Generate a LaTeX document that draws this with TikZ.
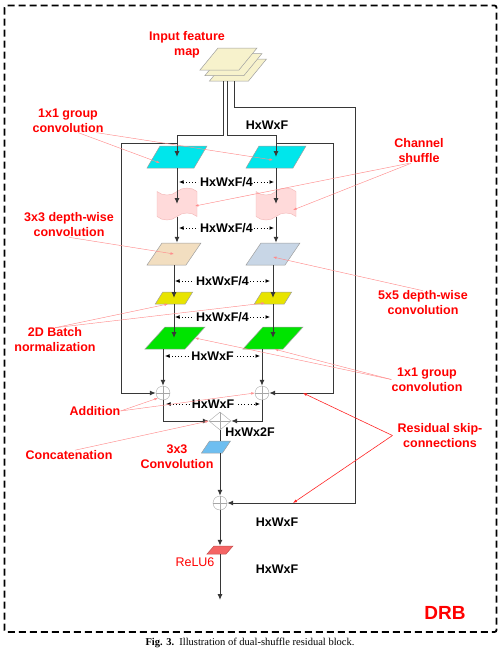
\documentclass[tikz,border=0pt]{standalone}
\usepackage{fontspec}
\setmainfont{Liberation Serif}
\setsansfont{Liberation Sans}
\usepackage{tikz}
\usetikzlibrary{shapes.geometric,shapes.symbols,arrows.meta}
\usepackage{xcolor}

\definecolor{mapF}{RGB}{247,242,204}
\definecolor{grpF}{RGB}{0,230,235}
\definecolor{tanF}{RGB}{242,222,192}
\definecolor{dwF}{RGB}{200,214,230}
\definecolor{bnF}{RGB}{232,228,0}
\definecolor{pwF}{RGB}{0,228,0}
\definecolor{convF}{RGB}{110,190,240}
\definecolor{reluF}{RGB}{245,100,100}
\definecolor{shufF}{RGB}{255,218,218}
\definecolor{shufD}{RGB}{242,180,180}
\definecolor{leadC}{RGB}{255,140,140}
\definecolor{lineC}{RGB}{55,55,55}

\newcommand{\lblfont}{\sffamily\bfseries\fontsize{12.5}{15}\selectfont}

\begin{document}
\begin{tikzpicture}[x=1pt, y=-1pt,
    >={Latex[length=6pt,width=5pt]},
    para/.style={rectangle, transform shape, inner sep=0pt, draw=gray!75, line width=0.5pt},
    inmap/.style={para, xslant=0.82, minimum width=39, minimum height=22, fill=mapF},
    grpconv/.style={para, xslant=0.59, minimum width=47, minimum height=22, fill=grpF},
    dwconv/.style={para, xslant=0.68, minimum width=39, minimum height=22},
    bnorm/.style={para, xslant=0.62, minimum width=30, minimum height=12, fill=bnF},
    pwconv/.style={para, xslant=0.91, minimum width=40, minimum height=22, fill=pwF},
    shuf/.style={tape, draw=shufD, fill=shufF, minimum width=40, minimum height=32,
                 tape bend height=7pt, inner sep=0pt},
    adder/.style={circle, draw=gray!70, minimum size=14, inner sep=0pt,
        path picture={\draw[gray!70] (path picture bounding box.north) -- (path picture bounding box.south)
                      (path picture bounding box.west) -- (path picture bounding box.east);}},
    concat/.style={diamond, draw=gray!70, minimum width=22, minimum height=18, inner sep=0pt,
        path picture={\draw[gray!70] (path picture bounding box.north) -- (path picture bounding box.south)
                      (path picture bounding box.west) -- (path picture bounding box.east);}},
    flow/.style={draw=lineC, line width=1pt},
    arr/.style={flow, ->},
    dim/.style={draw=black, line width=0.9pt, dash pattern=on 0.9pt off 2.2pt,
                {Latex[length=4.5pt,width=4pt]}-{Latex[length=4.5pt,width=4pt]}},
    dimlbl/.style={fill=white, inner sep=1.5pt, font=\lblfont},
    lbl/.style={text=red, font=\lblfont, align=center, inner sep=0pt},
    lead/.style={draw=leadC, line width=0.45pt, -{Latex[length=3.5pt,width=2.5pt]}},
    reslead/.style={draw=red!85, line width=0.6pt, -{Latex[length=4pt,width=3pt]}}
]
\useasboundingbox (0,0) rectangle (500,659);

% outer DRB frame
\draw[line width=1.8pt, dash pattern=on 7pt off 4pt, rounded corners=2pt] (4.5,5.5) rectangle (496.5,632);
\node[text=red, font=\sffamily\bfseries\fontsize{19}{20}\selectfont] (drb) at (445,613) {DRB};

% input feature map (three stacked layers)
\node[inmap] (in3) at (238,70) {};
\node[inmap] (in2) at (233.5,64.5) {};
\node[inmap] (in1) at (228.5,59) {};

% two branches
\node[grpconv] (cyanL) at (177,157) {};
\node[grpconv] (cyanR) at (276,157) {};
\node[shuf] (shufL) at (177,204) {};
\node[shuf] (shufR) at (276,204) {};
\node[dwconv, fill=tanF] (tanL) at (174,254) {};
\node[dwconv, fill=dwF] (tanR) at (273,254) {};
\node[bnorm] (yelL) at (174,298) {};
\node[bnorm] (yelR) at (273,298) {};
\node[pwconv] (greenL) at (175,338) {};
\node[pwconv] (greenR) at (273,338) {};
\node[adder] (addL) at (163,393) {};
\node[adder] (addR) at (262,393) {};

% merge and output
\node[concat] (cat) at (220,421) {};
\node[para, xslant=0.67, minimum width=21, minimum height=12, fill=convF] (conv) at (216,447) {};
\node[adder] (addO) at (220,503) {};
\node[para, draw=reluF!80!black, xslant=0.87, minimum width=19, minimum height=8, fill=reluF] (relu) at (220,550) {};
\coordinate (out) at (220,600);

% input lines
\draw[arr] ([xshift=-5pt]in3.south) -- ++(0,54) -| (cyanL.center);
\draw[arr] ([xshift=-1pt]in3.south) -- ++(0,54) -| (cyanR.center);
\draw[arr] ([xshift=6pt]in3.south) -- ++(0,26) -- ++(121,0) |- (addO.east);

% residual skips of the branches
\coordinate (skL) at (177,143);
\coordinate (skR) at (276,143);
\draw[arr] (skL) -- ++(-56,0) |- (addL.west);
\draw[arr] (skR) -- ++(57,0) |- (addR.east);

% branch flow
\draw[arr] (cyanL.center |- cyanL.south) -- (shufL.center);
\draw[arr] (cyanR.center |- cyanR.south) -- (shufR.center);
\draw[arr] (shufL.south) -- (shufL.south |- tanL.north);
\draw[arr] (shufR.south) -- (shufR.south |- tanR.north);
\draw[arr] (tanL.center |- tanL.south) -- (yelL.center);
\draw[arr] (tanR.center |- tanR.south) -- (yelR.center);
\draw[arr] (yelL.center |- yelL.south) -- (yelL.center |- greenL.center);
\draw[arr] (yelR.center |- yelR.south) -- (yelR.center |- greenR.center);
\draw[arr] (greenL.south -| addL.north) -- (addL.north);
\draw[arr] (greenR.south -| addR.north) -- (addR.north);
\draw[arr] (addL.south) |- (cat.west);
\draw[arr] (addR.south) |- (cat.east);
\draw[flow] (cat.south) -- (cat.south |- conv.north);
\draw[arr] (cat.south |- conv.south) -- (addO.north);
\draw[arr] (addO.south) -- (addO.south |- relu.north);
\draw[arr] (addO.south |- relu.south) -- (out);

% feature sizes
\node[font=\lblfont] (szIn) at (267,125) {HxWxF};
\foreach \n/\y/\xa/\xb/\t in {1/182/179/274/{HxWxF/4}, 2/228/179/274/{HxWxF/4},
        3/281/175/270/{HxWxF/4}, 4/317/175/270/{HxWxF/4},
        5/356/165/260/{HxWxF}, 6/404/166/260/{HxWxF}}{
    \coordinate (dl\n) at (\xa,\y);
    \coordinate (dr\n) at (\xb,\y);
    \draw[dim] (dl\n) -- node[dimlbl]{\t} (dr\n);
}
\node[font=\lblfont] (szCat) at (250,432) {HxWx2F};
\node[font=\lblfont] (szSum) at (277,522) {HxWxF};
\node[font=\lblfont] (szOut) at (277,569) {HxWxF};

% red labels
\node[lbl] (lblIn) at (187,44.5) {Input feature\\map};
\node[lbl] (lblGrp1) at (68,120.5) {1x1 group\\convolution};
\node[lbl] (lblShuf) at (419,151) {Channel\\shuffle};
\node[lbl] (lblDw3) at (69,225) {3x3 depth-wise\\convolution};
\node[lbl] (lblDw5) at (423,303) {5x5 depth-wise\\convolution};
\node[lbl] (lblBn) at (55,340) {2D Batch\\normalization};
\node[lbl] (lblGrp2) at (427,379.5) {1x1 group\\convolution};
\node[lbl] (lblAdd) at (95,411) {Addition};
\node[lbl] (lblCat) at (69,455) {Concatenation};
\node[lbl] (lblConv) at (177,456.5) {3x3\\Convolution};
\node[lbl] (lblRes) at (440,435.5) {Residual skip-\\connections};
\node[text=red, font=\sffamily\fontsize{12.5}{15}\selectfont, inner sep=0pt] (lblRelu) at (195,562) {ReLU6};

% leader lines
\draw[lead] ([xshift=10pt]lblGrp1.south) -- ([xshift=-17pt,yshift=-6pt]cyanL.center);
\draw[lead] ([xshift=28pt]lblGrp1.south) -- ([xshift=-3pt,yshift=-3pt]cyanR.center);
\draw[lead] ([xshift=-10pt]lblShuf.south) -- ([xshift=18pt,yshift=-2pt]shufL.center);
\draw[lead] ([xshift=-8pt]lblShuf.south) -- ([xshift=17pt,yshift=-6pt]shufR.center);
\draw[lead] (lblDw3.south) -- (tanL.center);
\draw[lead] (lblDw5.north) -- ([yshift=-3pt]tanR.center);
\draw[lead] (lblBn.north) -- ([xshift=-6pt,yshift=-6pt]yelL.center);
\draw[lead] (lblBn.north) -- ([xshift=-8pt,yshift=-5pt]yelR.center);
\draw[lead] (lblGrp2.west) -- ([xshift=20pt]greenL.center);
\draw[lead] (lblGrp2.west) -- ([xshift=12pt]greenR.south);
\draw[lead] (lblAdd.east) -- (addL.south west);
\draw[lead] (lblAdd.east) -- (addR.west);
\draw[lead] ([xshift=6pt]lblCat.north) -- (cat.west);
\coordinate (resA) at (303,393);
\coordinate (resB) at (293,503);
\draw[reslead] ([xshift=-5pt]lblRes.west) -- (resA);
\draw[reslead] ([xshift=-5pt]lblRes.west) -- (resB);

% caption
\node[font=\fontsize{10.5}{12}\selectfont] (cap) at (250,643) {\textbf{Fig. 3.}\ \ Illustration of dual-shuffle residual block.};

\end{tikzpicture}
\end{document}
